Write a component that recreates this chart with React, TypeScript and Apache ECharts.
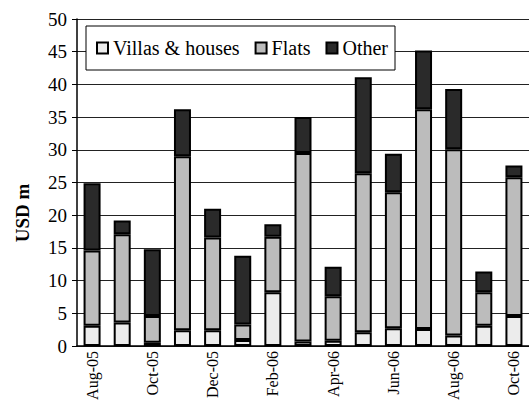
import React, { useEffect, useRef } from "react";
import * as echarts from "echarts";

const categories = [
  "Aug-05", "Sep-05", "Oct-05", "Nov-05", "Dec-05", "Jan-06", "Feb-06", "Mar-06",
  "Apr-06", "May-06", "Jun-06", "Jul-06", "Aug-06", "Sep-06", "Oct-06",
];
const villas = [3.1, 3.6, 0.5, 2.4, 2.4, 0.9, 8.2, 0.7, 0.8, 2.1, 2.7, 2.6, 1.6, 3.1, 4.6];
const flats = [11.5, 13.5, 4.1, 26.6, 14.2, 2.4, 8.5, 28.8, 6.8, 24.3, 20.8, 33.6, 28.5, 5.1, 21.2];
const other = [10.3, 2.1, 10.2, 7.2, 4.4, 10.5, 1.9, 5.5, 4.5, 14.7, 5.9, 9.0, 9.2, 3.2, 1.8];

const FONT = "Liberation Serif";

export default function App() {
  const ref = useRef<HTMLDivElement>(null);
  useEffect(() => {
    if (!ref.current) return;
    const chart = echarts.init(ref.current, undefined, { renderer: "svg" });
    const barBase = {
      type: "bar" as const,
      stack: "total",
      barWidth: 17,
      emphasis: { disabled: true },
    };
    chart.setOption({
      animation: false,
      backgroundColor: "#ffffff",
      textStyle: { fontFamily: FONT },
      grid: { left: 77, top: 19, bottom: 57, right: -8, containLabel: false },
      legend: {
        left: 86,
        top: 26,
        orient: "horizontal",
        padding: [12, 7, 12, 10],
        itemGap: 15,
        itemWidth: 11,
        itemHeight: 11,
        icon: "rect",
        borderColor: "#000",
        borderWidth: 1,
        backgroundColor: "#fff",
        textStyle: { fontFamily: FONT, fontSize: 20, color: "#000", lineHeight: 20 },
        selectedMode: false,
        data: ["Villas & houses", "Flats", "Other"],
      },
      xAxis: {
        type: "category",
        data: categories,
        boundaryGap: true,
        axisLine: { lineStyle: { color: "#000", width: 1.5 } },
        axisTick: { interval: 1, length: 5, lineStyle: { color: "#000", width: 1 } },
        axisLabel: {
          interval: 1,
          rotate: 90,
          margin: 5,
          fontFamily: FONT,
          fontSize: 16,
          color: "#000",
        },
        splitLine: { show: false },
      },
      yAxis: {
        type: "value",
        min: 0,
        max: 50,
        interval: 5,
        axisLine: { show: true, lineStyle: { color: "#000", width: 1.5 } },
        axisTick: { show: true, length: 5, lineStyle: { color: "#000" } },
        axisLabel: { fontFamily: FONT, fontSize: 19, color: "#000", margin: 10 },
        splitLine: { show: true, lineStyle: { color: "#222", width: 1 } },
      },
      graphic: [
        {
          type: "text",
          x: 22,
          y: 213,
          rotation: Math.PI / 2,
          style: {
            text: "USD m",
            font: `bold 19px ${FONT}`,
            fill: "#000",
            textAlign: "center",
            textVerticalAlign: "middle",
          },
        },
      ],
      series: [
        {
          ...barBase,
          name: "Villas & houses",
          data: villas,
          itemStyle: { color: "#ececec", borderColor: "#000", borderWidth: 2 },
        },
        {
          ...barBase,
          name: "Flats",
          data: flats,
          itemStyle: { color: "#bcbcbc", borderColor: "#000", borderWidth: 2 },
        },
        {
          ...barBase,
          name: "Other",
          data: other,
          itemStyle: { color: "#2a2a2a", borderColor: "#000", borderWidth: 2 },
        },
      ],
    });
    return () => chart.dispose();
  }, []);
  return <div ref={ref} style={{ width: 529, height: 403, position: "absolute", left: 0, top: 0 }} />;
}
